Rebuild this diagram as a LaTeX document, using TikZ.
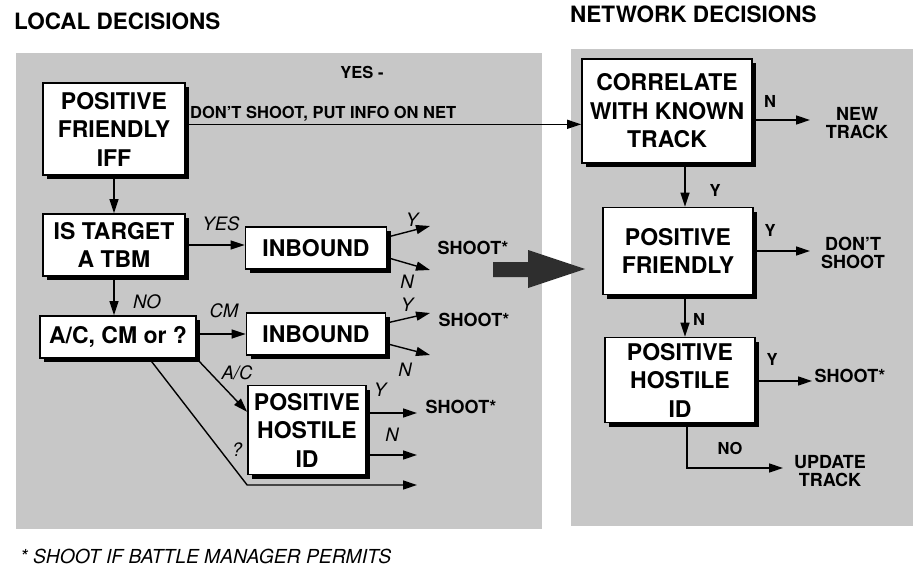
\documentclass[tikz,border=0pt]{standalone}
\usepackage{fontspec}
\setmainfont{TeX Gyre Heros}
\usetikzlibrary{arrows.meta,shadows,calc}
\definecolor{panelgray}{gray}{0.78}
\begin{document}
\begin{tikzpicture}[x=1pt,y=-1pt,
  box/.style={draw=black, line width=1.7pt, fill=white, align=center,
    font=\bfseries\fontsize{23}{28.5}\selectfont, inner sep=0pt,
    drop shadow={shadow xshift=4pt, shadow yshift=-4pt, opacity=1, fill=black}},
  conn/.style={line width=1.4pt, -{Triangle[length=14pt,width=9pt]}},
  lbl/.style={font=\itshape\fontsize{18.5}{18.5}\selectfont, inner sep=0pt},
  blbl/.style={font=\bfseries\fontsize{16.5}{16.5}\selectfont, inner sep=0pt},
  outtxt/.style={font=\bfseries\fontsize{18}{18.5}\selectfont, align=center, inner sep=0pt},
  head/.style={font=\bfseries\fontsize{22.5}{22.5}\selectfont, inner sep=0pt, anchor=west},
  panel/.style={fill=panelgray, draw=none}]

\useasboundingbox (0,0) rectangle (916,578);
\fill[white] (0,0) rectangle (916,578);
\path[panel] (16,53) rectangle (542,529);
\path[panel] (571,49) rectangle (913,526);

% headings
\node[head] (hl) at (14,21) {LOCAL DECISIONS};
\node[head] (hn) at (570,14) {NETWORK DECISIONS};

% boxes
\node[box, minimum width=142, minimum height=92] (pf) at (114,129) {POSITIVE\\FRIENDLY\\IFF};
\node[box, minimum width=142, minimum height=62] (ist) at (114,245) {IS TARGET\\A TBM};
\node[box, minimum width=141, minimum height=42] (inb1) at (316,248) {INBOUND};
\node[box, minimum width=156, minimum height=42] (acm) at (118,337) {A/C, CM or ?};
\node[box, minimum width=139, minimum height=42] (inb2) at (316,334) {INBOUND};
\node[box, minimum width=118, minimum height=89] (phl) at (307,430) {POSITIVE\\HOSTILE\\ID};
\node[box, minimum width=170, minimum height=104] (corr) at (667,111) {CORRELATE\\WITH KNOWN\\TRACK};
\node[box, minimum width=150, minimum height=87] (pfr) at (678,251) {POSITIVE\\FRIENDLY};
\node[box, minimum width=150, minimum height=85] (phr) at (680,380) {POSITIVE\\HOSTILE\\ID};

% free ends
\coordinate (i1y) at (430,226);
\coordinate (i1n) at (430,270);
\coordinate (i2y) at (430,313);
\coordinate (i2n) at (430,355);
\coordinate (phlY) at (417,413);
\coordinate (phlN) at (417,455);
\coordinate (qend) at (417,485);
\coordinate (ntA) at (810,120);
\coordinate (dsA) at (810,251);
\coordinate (shA) at (812,381);
\coordinate (upA) at (783,468);
\coordinate (d0) at ($(pf.north east)!0.45!(pf.south east)$);
\coordinate (pfrin) at ([xshift=7pt]pfr.north);
\coordinate (phrin) at ([xshift=5pt]phr.north);
\coordinate (phrout) at ([xshift=7pt]phr.south);

% left connectors
\draw[conn] (pf.south) -- (ist.north);
\draw[conn] (ist.south) -- (ist.south |- acm.north);
\draw[conn] (ist.east) -- (ist.east -| inb1.west);
\draw[conn] (acm.east |- inb2.west) -- (inb2.west);
\draw[conn] (acm.south east) -- ($(phl.north west)!0.3!(phl.south west)$);
\draw[conn] ($(acm.south west)!0.7!(acm.south east)$) -- (phl.west |- qend) -- (qend);
\draw[conn] ($(inb1.north east)!0.25!(inb1.south east)$) -- (i1y);
\draw[conn] ($(inb1.north east)!0.72!(inb1.south east)$) -- (i1n);
\draw[conn] ($(inb2.north east)!0.25!(inb2.south east)$) -- (i2y);
\draw[conn] ($(inb2.north east)!0.72!(inb2.south east)$) -- (i2n);
\draw[conn] (phl.east |- phlY) -- (phlY);
\draw[conn] (phl.east |- phlN) -- (phlN);
\draw[conn] (d0) -- (d0 -| corr.west);

% right connectors
\draw[conn] (corr.east |- ntA) -- (ntA);
\draw[conn] (pfrin |- corr.south) -- (pfrin);
\draw[conn] (pfr.east |- dsA) -- (dsA);
\draw[conn] (phrin |- pfr.south) -- (phrin);
\draw[conn] (phr.east |- shA) -- (shA);
\draw[conn] (phrout) -- (phrout |- upA) -- (upA);

% big arrow
\fill[black!82] (493,262) -- (528,262) -- (528,250) -- (585,269) -- (528,288) -- (528,277) -- (493,277) -- cycle;

% top labels
\node[font=\bfseries\fontsize{16.5}{16.5}\selectfont, inner sep=0pt] (yesnet) at (362,72) {YES -};
\node[anchor=base west, font=\bfseries\fontsize{16.5}{16.5}\selectfont, inner sep=0pt] (dsnet) at (190,118) {DON'T SHOOT, PUT INFO ON NET};

% italic labels
\node[lbl] (lyes) at (221,224) {YES};
\node[lbl] (lno) at (147,302) {NO};
\node[lbl] (lcm) at (224,311) {CM};
\node[lbl] (lac) at (237,373) {A/C};
\node[lbl] (lq) at (237,450) {?};
\node[lbl] (ly1) at (412,220) {Y};
\node[lbl] (ln1) at (407,282) {N};
\node[lbl] (ly2) at (407,305) {Y};
\node[lbl] (ln2) at (405,370) {N};
\node[lbl] (ly3) at (380,390) {Y};
\node[lbl] (ln3) at (392,435) {N};

% shoot texts
\node[outtxt] (s1) at (473,248) {SHOOT*};
\node[outtxt] (s2) at (474,320) {SHOOT*};
\node[outtxt] (s3) at (461,407) {SHOOT*};

% right labels
\node[blbl] (rn1) at (770,101) {N};
\node[outtxt] (newtr) at (857,123) {NEW\\TRACK};
\node[blbl] (ry1) at (715,190) {Y};
\node[blbl] (ry2) at (770,230) {Y};
\node[outtxt] (dontsh) at (853,253) {DON'T\\SHOOT};
\node[blbl] (rn2) at (699,319) {N};
\node[blbl] (ry3) at (772,359) {Y};
\node[outtxt] (shr) at (850,376) {SHOOT*};
\node[blbl] (rno) at (730,448) {NO};
\node[outtxt] (upd) at (830,471) {UPDATE\\TRACK};

% footnote
\node[anchor=west, font=\itshape\fontsize{19.3}{19.3}\selectfont, inner sep=0pt] (fn) at (20,556) {* SHOOT IF BATTLE MANAGER PERMITS};
\end{tikzpicture}
\end{document}
